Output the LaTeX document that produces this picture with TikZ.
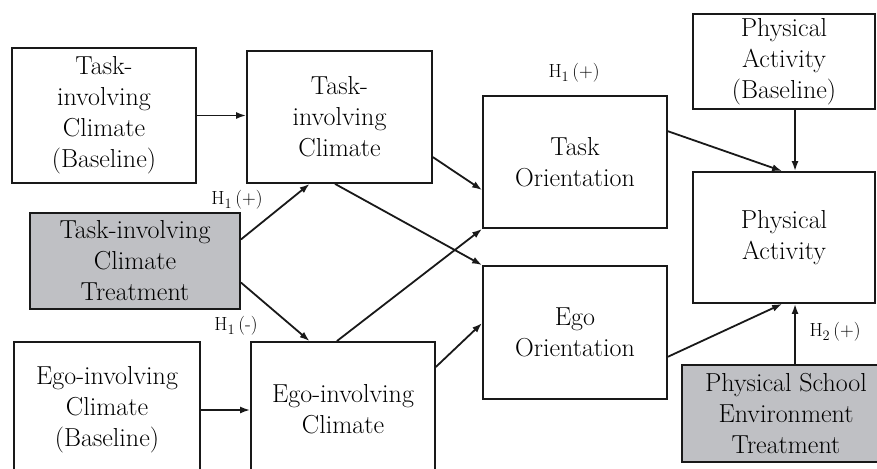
\documentclass[tikz,border=0pt]{standalone}
\usetikzlibrary{calc,arrows.meta}
\definecolor{treatgray}{HTML}{BFC0C4}
\tikzset{
  box/.style={draw=black!90, line width=1.8pt, rectangle, inner sep=0pt, align=center,
              font=\fontsize{26}{31}\selectfont},
  treat/.style={box, fill=treatgray},
  link/.style={draw=black!90, line width=1.8pt, -{Latex[length=10pt,width=7pt]}},
  hyp/.style={font=\fontsize{19}{21}\selectfont, inner sep=0pt}
}
\begin{document}
\begin{tikzpicture}[x=1pt,y=-1pt]
\useasboundingbox (0,0) rectangle (877,468);
\clip (0,0) rectangle (877,468);

% boxes
\node[box, minimum width=184pt, minimum height=135pt] (b1) at (104,115.5)
  {Task-\\involving\\Climate\\(Baseline)};
\node[box, minimum width=185pt, minimum height=132pt] (b2) at (339.5,117)
  {Task-\\involving\\Climate};
\node[treat, minimum width=210pt, minimum height=96pt] (tt) at (135,261)
  {Task-involving\\Climate\\Treatment};
\node[box, minimum width=186pt, minimum height=136pt] (eb) at (107,410)
  {Ego-involving\\Climate\\(Baseline)};
\node[box, minimum width=184pt, minimum height=134pt] (ec) at (343,409)
  {Ego-involving\\Climate};
\node[box, minimum width=184pt, minimum height=132pt] (to) at (575,162)
  {Task\\Orientation};
\node[box, minimum width=184pt, minimum height=133pt] (eo) at (575,332.5)
  {Ego\\Orientation};
\node[box, minimum width=182pt, minimum height=95pt] (pab) at (784,61.5)
  {Physical\\Activity\\(Baseline)};
\node[box, minimum width=182pt, minimum height=131pt] (pa) at (784,237.5)
  {Physical\\Activity};
\node[treat, minimum width=208pt, minimum height=97pt] (ps) at (786,413.5)
  {Physical School\\Environment\\Treatment};

% connectors
\draw[link] (b1.east) -- (b1.east -| b2.west);
\draw[link] (eb.east) -- (eb.east -| ec.west);
\draw[link] ($(tt.north east)!0.28!(tt.south east)$) -- ($(b2.south west)!0.34!(b2.south east)$);
\draw[link] ($(tt.north east)!0.72!(tt.south east)$) -- ($(ec.north west)!0.32!(ec.north east)$);
\draw[link] ($(b2.north east)!0.80!(b2.south east)$) -- ($(to.north west)!0.71!(to.south west)$);
\draw[link] ($(b2.south west)!0.476!(b2.south east)$) -- (eo.north west);
\draw[link] ($(ec.north west)!0.467!(ec.north east)$) -- (to.south west);
\draw[link] ($(ec.north east)!0.19!(ec.south east)$) -- ($(eo.north west)!0.43!(eo.south west)$);
\draw[link] ($(to.north east)!0.27!(to.south east)$) -- ($(pa.north west)!0.49!(pa.north east)$);
\draw[link] ($(eo.north east)!0.68!(eo.south east)$) -- ($(pa.south west)!0.49!(pa.south east)$);
\path ($(pab.south west)!0.56!(pab.south east)$) coordinate (pabs);
\draw[link] (pabs) -- (pabs |- pa.north);
\path ($(pa.south west)!0.56!(pa.south east)$) coordinate (pas);
\draw[link] (pas |- ps.north) -- (pas);

% hypothesis labels
\node[hyp] (h1a) at (574,73) {H$_1$\,(+)};
\node[hyp] (h1b) at (237,200) {H$_1$\,(+)};
\node[hyp] (h1c) at (236,326) {H$_1$\,(-)};
\node[hyp] (h2) at (835,332) {H$_2$\,(+)};
\end{tikzpicture}
\end{document}
